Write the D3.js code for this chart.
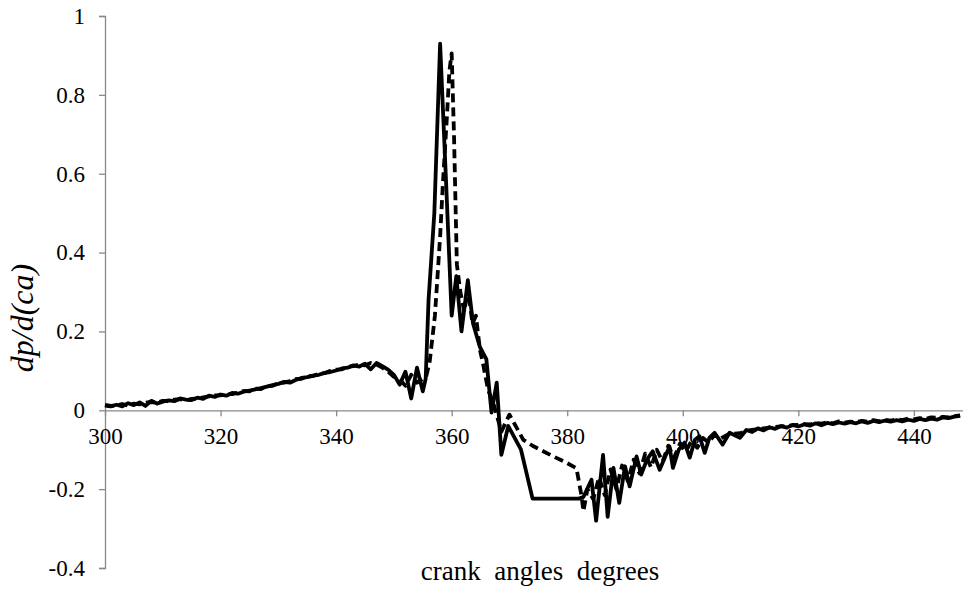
<!DOCTYPE html>
<html>
<head>
<meta charset="utf-8">
<script src="https://cdn.jsdelivr.net/npm/d3@7"></script>
</head>
<body style="margin:0">
<div class="chart"></div>
<script>
const width = 963;
const height = 590;

// solid trace
const solidAngle = [
  300, 301, 302, 303, 304, 305, 306, 307, 308, 309,
  310, 311, 312, 313, 314, 315, 316, 317, 318, 319,
  320, 321, 322, 323, 324, 325, 326, 327, 328, 329,
  330, 331, 332, 333, 334, 335, 336, 337, 338, 339,
  340, 341, 342, 343, 344, 345, 346, 347, 348, 349,
  350, 351, 352, 353, 354, 355, 355.5, 356, 357, 358,
  359, 360, 360.8, 361.7, 362.8, 363.7, 364.9, 366, 366.9, 367.8,
  368.6, 369.8, 372, 374, 376, 378, 380, 382, 382.8, 384.2,
  385, 386.2, 387, 388, 389, 390, 390.8, 392, 392.8, 393.8,
  394.8, 396, 397.7, 398.3, 399.3, 400.3, 401.2, 402.1, 402.9, 403.8,
  404.6, 405.5, 406.9, 408.1, 409.9, 411, 412, 413, 414, 415,
  416, 417, 418, 419, 420, 421, 422, 423, 424, 425,
  426, 427, 428, 429, 430, 431, 432, 433, 434, 435,
  436, 437, 438, 439, 440, 441, 442, 443, 444, 445,
  446, 447, 448
];
const solidDp = [
  0.012, 0.010, 0.014, 0.010, 0.018, 0.013, 0.020, 0.011, 0.024, 0.017,
  0.022, 0.025, 0.023, 0.030, 0.027, 0.026, 0.032, 0.029, 0.037, 0.034,
  0.040, 0.037, 0.044, 0.042, 0.047, 0.050, 0.053, 0.056, 0.060, 0.064,
  0.067, 0.072, 0.070, 0.077, 0.082, 0.084, 0.088, 0.090, 0.095, 0.097,
  0.101, 0.106, 0.108, 0.114, 0.111, 0.118, 0.104, 0.120, 0.112, 0.103,
  0.090, 0.065, 0.098, 0.030, 0.108, 0.048, 0.080, 0.280, 0.500, 0.930,
  0.590, 0.240, 0.340, 0.200, 0.330, 0.220, 0.160, 0.130, -0.006, 0.070,
  -0.113, -0.040, -0.100, -0.224, -0.224, -0.224, -0.224, -0.224, -0.220, -0.176,
  -0.280, -0.113, -0.270, -0.146, -0.235, -0.142, -0.193, -0.117, -0.163, -0.125,
  -0.104, -0.151, -0.092, -0.146, -0.100, -0.082, -0.120, -0.075, -0.066, -0.108,
  -0.070, -0.057, -0.087, -0.057, -0.070, -0.050, -0.055, -0.046, -0.051, -0.043,
  -0.047, -0.040, -0.044, -0.037, -0.041, -0.036, -0.039, -0.033, -0.038, -0.032,
  -0.035, -0.031, -0.034, -0.030, -0.033, -0.028, -0.032, -0.027, -0.030, -0.026,
  -0.029, -0.025, -0.028, -0.024, -0.027, -0.022, -0.025, -0.021, -0.024, -0.018,
  -0.020, -0.016, -0.014
];

// dashed trace
const dashedAngle = [
  300, 301, 302, 303, 304, 305, 306, 307, 308, 309,
  310, 311, 312, 313, 314, 315, 316, 317, 318, 319,
  320, 321, 322, 323, 324, 325, 326, 327, 328, 329,
  330, 331, 332, 333, 334, 335, 336, 337, 338, 339,
  340, 341, 342, 343, 344, 345, 346, 347, 348, 349,
  350, 351, 352, 353, 354, 355, 355.6, 356.2, 357.1, 358,
  358.5, 359.2, 359.6, 360, 360.4, 360.9, 361.5, 362.2, 362.8, 363.6,
  364.2, 364.9, 365.4, 366.3, 367.2, 368.6, 370, 372.4, 374, 376,
  377.6, 379.5, 381.6, 382.5, 382.8, 383.5, 384.5, 385.5, 386.5, 387.5,
  388.5, 389.5, 390.5, 391.5, 392.5, 393.5, 394.5, 395.5, 396.5, 397.5,
  398.5, 399.5, 400.5, 401.5, 402.5, 403.5, 404.5, 405.5, 406.5, 408,
  410, 411, 412, 413, 414, 415, 416, 417, 418, 419,
  420, 421, 422, 423, 424, 425, 426, 427, 428, 429,
  430, 431, 432, 433, 434, 435, 436, 437, 438, 439,
  440, 441, 442, 443, 444, 445, 446, 447, 448
];
const dashedDp = [
  0.014, 0.011, 0.012, 0.016, 0.012, 0.017, 0.015, 0.019, 0.021, 0.019,
  0.024, 0.023, 0.027, 0.028, 0.025, 0.029, 0.030, 0.033, 0.035, 0.038,
  0.038, 0.041, 0.041, 0.045, 0.049, 0.048, 0.055, 0.054, 0.062, 0.062,
  0.069, 0.070, 0.074, 0.079, 0.080, 0.086, 0.087, 0.093, 0.094, 0.100,
  0.103, 0.104, 0.110, 0.112, 0.116, 0.114, 0.120, 0.116, 0.108, 0.098,
  0.085, 0.078, 0.062, 0.090, 0.070, 0.080, 0.086, 0.124, 0.240, 0.440,
  0.580, 0.750, 0.860, 0.905, 0.700, 0.370, 0.300, 0.250, 0.310, 0.220,
  0.240, 0.153, 0.120, 0.052, 0.019, -0.054, -0.011, -0.075, -0.090, -0.105,
  -0.117, -0.130, -0.147, -0.219, -0.256, -0.200, -0.225, -0.170, -0.215, -0.150,
  -0.200, -0.140, -0.180, -0.125, -0.160, -0.110, -0.145, -0.100, -0.130, -0.090,
  -0.120, -0.085, -0.105, -0.078, -0.095, -0.070, -0.082, -0.062, -0.072, -0.060,
  -0.058, -0.052, -0.050, -0.048, -0.046, -0.044, -0.042, -0.041, -0.040, -0.038,
  -0.037, -0.035, -0.036, -0.032, -0.034, -0.030, -0.033, -0.028, -0.031, -0.029,
  -0.030, -0.027, -0.029, -0.025, -0.028, -0.024, -0.026, -0.023, -0.025, -0.021,
  -0.023, -0.020, -0.022, -0.018, -0.019, -0.017, -0.018, -0.015, -0.013
];

const xTicks = [300, 320, 340, 360, 380, 400, 420, 440];
const yTicks = [-0.4, -0.2, 0, 0.2, 0.4, 0.6, 0.8, 1];
const yTickLabels = ['-0.4', '-0.2', '0', '0.2', '0.4', '0.6', '0.8', '1'];

const xScale = d3.scaleLinear().domain([300, 448.5]).range([105, 963]);
const yScale = d3.scaleLinear().domain([-0.4, 1]).range([568, 16]);

const svg = d3.select('.chart').append('svg')
    .attr('width', width)
    .attr('height', height)
    .style('display', 'block');

const axisColor = '#898989';
const serif = 'Liberation Serif';

// y axis
const yAxis = svg.append('g')
    .attr('transform', `translate(${xScale(300)},0)`)
    .call(d3.axisLeft(yScale).tickValues(yTicks).tickSize(6).tickPadding(14)
        .tickFormat((d, i) => yTickLabels[i]));
yAxis.select('.domain').attr('stroke', axisColor).attr('stroke-width', 1.3);
yAxis.selectAll('.tick line').attr('stroke', axisColor).attr('stroke-width', 1.3);
yAxis.selectAll('.tick text')
    .attr('fill', '#000')
    .attr('font-family', serif)
    .attr('font-size', 23);

// x axis sits on y = 0
const xAxis = svg.append('g')
    .attr('transform', `translate(0,${yScale(0)})`)
    .call(d3.axisBottom(xScale).tickValues(xTicks).tickSize(6).tickSizeOuter(0).tickPadding(11));
xAxis.select('.domain').attr('stroke', axisColor).attr('stroke-width', 1.3);
xAxis.selectAll('.tick line').attr('stroke', axisColor).attr('stroke-width', 1.3);
xAxis.selectAll('.tick text')
    .attr('fill', '#000')
    .attr('font-family', serif)
    .attr('font-size', 23);

const line = d3.line()
    .x(d => xScale(d[0]))
    .y(d => yScale(d[1]));

const solidData = solidAngle.map((a, i) => [a, solidDp[i]]);
const dashedData = dashedAngle.map((a, i) => [a, dashedDp[i]]);

svg.append('path')
    .datum(dashedData)
    .attr('d', line)
    .attr('fill', 'none')
    .attr('stroke', '#000')
    .attr('stroke-width', 3.8)
    .attr('stroke-dasharray', '9,5')
    .attr('stroke-linejoin', 'round');

svg.append('path')
    .datum(solidData)
    .attr('d', line)
    .attr('fill', 'none')
    .attr('stroke', '#000')
    .attr('stroke-width', 3.8)
    .attr('stroke-linejoin', 'round');

// axis titles
svg.append('text')
    .attr('x', 540)
    .attr('y', 580)
    .attr('text-anchor', 'middle')
    .attr('font-family', serif)
    .attr('font-size', 27)
    .text('crank\u00a0 angles\u00a0 degrees');

svg.append('text')
    .attr('transform', 'translate(33,318) rotate(-90)')
    .attr('text-anchor', 'middle')
    .attr('font-family', serif)
    .attr('font-size', 32)
    .attr('font-style', 'italic')
    .text('dp/d(ca)');
</script>
</body>
</html>
